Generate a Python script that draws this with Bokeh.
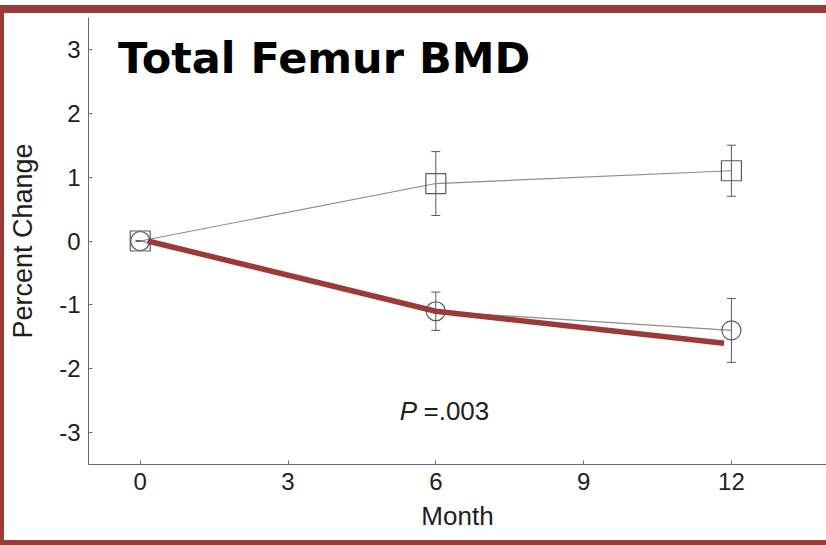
from bokeh.plotting import figure
from bokeh.models import (ColumnDataSource, Whisker, TeeHead, Label,
                          FixedTicker, Range1d, PrintfTickFormatter)
from bokeh.embed import file_html
from bokeh.resources import INLINE

# ---- data ----
months = [0, 6, 12]
group_up = [0.0, 0.9, 1.1]          # squares
group_up_err = [0.0, 0.5, 0.4]
group_down = [0.0, -1.1, -1.4]      # circles
group_down_err = [0.0, 0.3, 0.5]
trend_months = [0.15, 6, 11.85]     # red highlight line
trend_values = [0.0, -1.1, -1.6]
x_ticks = [0, 3, 6, 9, 12]
y_ticks = [-3, -2, -1, 0, 1, 2, 3]

up_src = ColumnDataSource(dict(
    x=months, y=group_up,
    upper=[v + e for v, e in zip(group_up, group_up_err)],
    lower=[v - e for v, e in zip(group_up, group_up_err)]))
down_src = ColumnDataSource(dict(
    x=months, y=group_down,
    upper=[v + e for v, e in zip(group_down, group_down_err)],
    lower=[v - e for v, e in zip(group_down, group_down_err)]))

GREY = "#5a5a5a"
LINE_GREY = "#8c8c8c"
RED = "#9b3a36"
TEXT = "#1e1e1e"

p = figure(width=822, height=527, output_backend="svg", toolbar_location=None,
           x_range=Range1d(-1.05, 13.93), y_range=Range1d(-3.5, 3.5),
           min_border_left=84, min_border_right=0, min_border_top=4,
           min_border_bottom=76)
# dark red slide frame drawn as shadows (does not change the element's size)
p.styles = {
    "margin-left": "4px", "margin-top": "13px",
    "box-shadow": (f"-4px 0 0 0 {RED}, 0 -8px 0 0 {RED}, 0 5px 0 0 {RED}, "
                   f"-4px -8px 0 0 {RED}, -4px 5px 0 0 {RED}"),
}
p.outline_line_color = None
p.xgrid.visible = False
p.ygrid.visible = False
p.background_fill_color = "white"
p.border_fill_color = "white"

# data lines
p.line(months, group_up, line_color=LINE_GREY, line_width=1.2)
p.line(months, group_down, line_color=LINE_GREY, line_width=1.2)

# error bars
for src in (up_src, down_src):
    w = Whisker(base="x", upper="upper", lower="lower", source=src,
                dimension="height", line_color=GREY, line_width=1,
                upper_head=TeeHead(size=9, line_color=GREY, line_width=1),
                lower_head=TeeHead(size=9, line_color=GREY, line_width=1))
    p.add_layout(w)

# markers
p.scatter("x", "y", source=up_src, marker="square", size=20,
          fill_color=None, line_color=GREY, line_width=1.2)
p.scatter("x", "y", source=down_src, marker="circle", size=19,
          fill_color=None, line_color=GREY, line_width=1.2)

# red highlight line
p.line(trend_months, trend_values, line_color=RED, line_width=5.5)

# axes
for ax in (p.xaxis[0], p.yaxis[0]):
    ax.axis_line_color = "#6a6a6a"
    ax.major_tick_line_color = "#6a6a6a"
    ax.major_tick_in = 4
    ax.major_tick_out = 0
    ax.minor_tick_line_color = None
    ax.major_label_text_font = "Liberation Sans"
    ax.major_label_text_font_size = "24px"
    ax.major_label_text_color = TEXT
    ax.axis_label_text_font = "Liberation Sans"
    ax.axis_label_text_font_size = "26px"
    ax.axis_label_text_font_style = "normal"
    ax.axis_label_text_color = TEXT
    ax.major_label_standoff = 8
    ax.formatter = PrintfTickFormatter(format="%d")

p.xaxis[0].ticker = FixedTicker(ticks=x_ticks)
p.yaxis[0].ticker = FixedTicker(ticks=y_ticks)
p.xaxis[0].axis_label = "Month"
p.yaxis[0].axis_label = "Percent Change"
p.xaxis[0].axis_label_standoff = 8
p.yaxis[0].axis_label_standoff = 18
p.yaxis[0].axis_label_text_font_size = "27px"

# P value annotation
p.add_layout(Label(x=5.27, y=-2.66, text="P", text_font="Liberation Sans",
                   text_font_style="italic", text_font_size="26px",
                   text_color=TEXT, text_baseline="middle"))
p.add_layout(Label(x=5.75, y=-2.66, text="=.003", text_font="Liberation Sans",
                   text_font_size="26px", text_color=TEXT,
                   text_baseline="middle"))

# title
p.add_layout(Label(x=-0.45, y=2.86, text="Total Femur BMD",
                   text_font="DejaVu Sans", text_font_style="bold",
                   text_font_size="43px", text_color="black",
                   text_baseline="alphabetic"))

open("out.html", "w").write(file_html(p, INLINE))
